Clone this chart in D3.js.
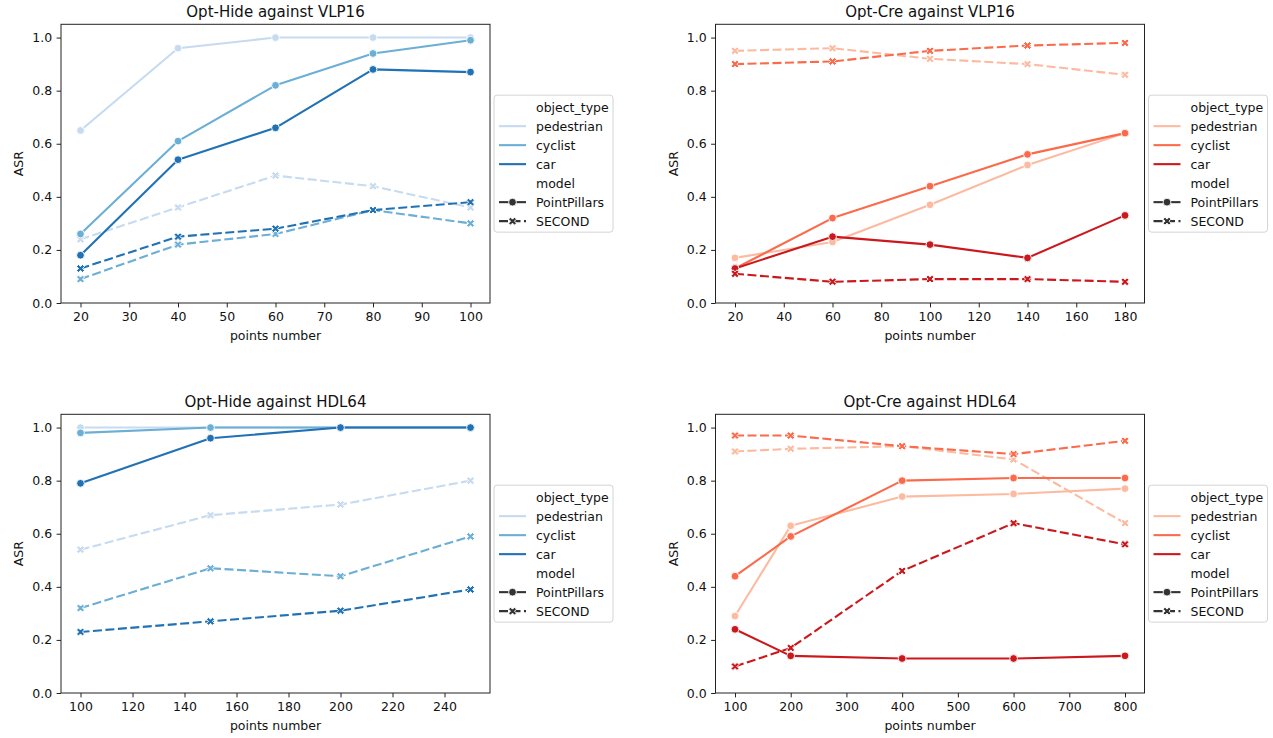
<!DOCTYPE html>
<html>
<head>
<meta charset="utf-8">
<script src="https://cdn.jsdelivr.net/npm/d3@7"></script>
<style>
body { margin: 0; background: #fff; }
svg text { font-family: "DejaVu Sans", sans-serif; fill: #111; }
</style>
</head>
<body>
<div id="chart"></div>
<script>
// legend levels and palettes (seaborn Blues / Reds, 3 colors)
var objectTypes = ["pedestrian", "cyclist", "car"];
var models = ["PointPillars", "SECOND"];
var blues = ["#c6dbef", "#6baed6", "#2171b5"];
var reds = ["#fcbba1", "#fb6a4a", "#cb181d"];
var yTicks = [0, 0.2, 0.4, 0.6, 0.8, 1.0];

// Opt-Hide against VLP16
var hideVlpX = [20, 40, 60, 80, 100];
var hideVlpTicks = [20, 30, 40, 50, 60, 70, 80, 90, 100];
var hideVlpPillars = [[0.65, 0.96, 1.0, 1.0, 1.0], [0.26, 0.61, 0.82, 0.94, 0.99], [0.18, 0.54, 0.66, 0.88, 0.87]];
var hideVlpSecond = [[0.24, 0.36, 0.48, 0.44, 0.36], [0.09, 0.22, 0.26, 0.35, 0.30], [0.13, 0.25, 0.28, 0.35, 0.38]];

// Opt-Cre against VLP16
var creVlpX = [20, 60, 100, 140, 180];
var creVlpTicks = [20, 40, 60, 80, 100, 120, 140, 160, 180];
var creVlpPillars = [[0.17, 0.23, 0.37, 0.52, 0.64], [0.13, 0.32, 0.44, 0.56, 0.64], [0.13, 0.25, 0.22, 0.17, 0.33]];
var creVlpSecond = [[0.95, 0.96, 0.92, 0.90, 0.86], [0.90, 0.91, 0.95, 0.97, 0.98], [0.11, 0.08, 0.09, 0.09, 0.08]];

// Opt-Hide against HDL64
var hideHdlX = [100, 150, 200, 250];
var hideHdlTicks = [100, 120, 140, 160, 180, 200, 220, 240];
var hideHdlPillars = [[1.0, 1.0, 1.0, 1.0], [0.98, 1.0, 1.0, 1.0], [0.79, 0.96, 1.0, 1.0]];
var hideHdlSecond = [[0.54, 0.67, 0.71, 0.80], [0.32, 0.47, 0.44, 0.59], [0.23, 0.27, 0.31, 0.39]];

// Opt-Cre against HDL64
var creHdlX = [100, 200, 400, 600, 800];
var creHdlTicks = [100, 200, 300, 400, 500, 600, 700, 800];
var creHdlPillars = [[0.29, 0.63, 0.74, 0.75, 0.77], [0.44, 0.59, 0.80, 0.81, 0.81], [0.24, 0.14, 0.13, 0.13, 0.14]];
var creHdlSecond = [[0.91, 0.92, 0.93, 0.88, 0.64], [0.97, 0.97, 0.93, 0.90, 0.95], [0.10, 0.17, 0.46, 0.64, 0.56]];

var panels = [
    {title: "Opt-Hide against VLP16", xs: hideVlpX, ticks: hideVlpTicks, pp: hideVlpPillars, sec: hideVlpSecond, colors: blues, left: 61, top: 24.3},
    {title: "Opt-Cre against VLP16", xs: creVlpX, ticks: creVlpTicks, pp: creVlpPillars, sec: creVlpSecond, colors: reds, left: 715.5, top: 24.3},
    {title: "Opt-Hide against HDL64", xs: hideHdlX, ticks: hideHdlTicks, pp: hideHdlPillars, sec: hideHdlSecond, colors: blues, left: 61, top: 414.3},
    {title: "Opt-Cre against HDL64", xs: creHdlX, ticks: creHdlTicks, pp: creHdlPillars, sec: creHdlSecond, colors: reds, left: 715.5, top: 414.3}
];

var W = 1273, H = 738;
var pw = 429, ph = 278.7;
var fs = 12.5;
var lw = 2.1, dash = "9,3.5";

var svg = d3.select("#chart")
    .append("svg")
        .attr("width", W)
        .attr("height", H);

// filled "X" marker like matplotlib
function xPath(s) {
    var v = [[0.25,0],[0.5,0.25],[0.75,0],[1,0.25],[0.75,0.5],[1,0.75],[0.75,1],[0.5,0.75],[0.25,1],[0,0.75],[0.25,0.5],[0,0.25]];
    return "M" + v.map(function(p){ return ((p[0]-0.5)*s).toFixed(2) + "," + ((p[1]-0.5)*s).toFixed(2); }).join("L") + "Z";
}

function drawMarker(g, kind, cx, cy, color) {
    if (kind == 0) {
        g.append("circle")
            .attr("cx", cx).attr("cy", cy).attr("r", 3.9)
            .style("fill", color).style("stroke", "#fff").style("stroke-width", 0.9);
    } else {
        g.append("path")
            .attr("d", xPath(8))
            .attr("transform", "translate(" + cx + "," + cy + ")")
            .style("fill", color).style("stroke", "#fff").style("stroke-width", 1);
    }
}

panels.forEach(function(p) {
    var g = svg.append("g").attr("transform", "translate(" + p.left + "," + p.top + ")");

    var ext = d3.extent(p.xs), pad = (ext[1] - ext[0]) * 0.05;
    var x = d3.scaleLinear().domain([ext[0] - pad, ext[1] + pad]).range([0, pw]);
    var y = d3.scaleLinear().domain([0, 1.05]).range([ph, 0]);

    // axes
    var xa = g.append("g")
        .attr("transform", "translate(0," + ph + ")")
        .call(d3.axisBottom(x).tickValues(p.ticks).tickSize(4.4).tickPadding(4.4).tickFormat(d3.format("d")));
    var ya = g.append("g")
        .call(d3.axisLeft(y).tickValues(yTicks).tickSize(4.4).tickPadding(4.4).tickFormat(d3.format(".1f")));
    [xa, ya].forEach(function(a) {
        a.select(".domain").remove();
        a.selectAll("line").style("stroke", "#222").style("stroke-width", 1);
        a.selectAll("text").style("font-size", fs + "px").style("font-family", "DejaVu Sans").style("fill", "#111");
    });

    // lines: hue order, then style
    var line = d3.line()
        .x(function(d, i) { return x(p.xs[i]); })
        .y(function(d) { return y(d); });

    objectTypes.forEach(function(t, ti) {
        [p.pp, p.sec].forEach(function(series, mi) {
            var vals = series[ti];
            g.append("path")
                .datum(vals)
                .attr("d", line)
                .style("fill", "none")
                .style("stroke", p.colors[ti])
                .style("stroke-width", lw)
                .style("stroke-linejoin", "round")
                .style("stroke-dasharray", mi == 1 ? dash : null);
            vals.forEach(function(v, i) {
                drawMarker(g, mi, x(p.xs[i]), y(v), p.colors[ti]);
            });
        });
    });

    // frame
    g.append("rect")
        .attr("width", pw).attr("height", ph)
        .style("fill", "none").style("stroke", "#222").style("stroke-width", 1);

    // texts
    g.append("text")
        .attr("x", pw / 2).attr("y", -7.5)
        .attr("text-anchor", "middle")
        .style("font-size", "15px")
        .text(p.title);
    g.append("text")
        .attr("x", pw / 2).attr("y", ph + 37)
        .attr("text-anchor", "middle")
        .style("font-size", fs + "px")
        .text("points number");
    g.append("text")
        .attr("transform", "translate(-42," + (ph / 2) + ") rotate(-90)")
        .attr("dy", "0.35em")
        .attr("text-anchor", "middle")
        .style("font-size", fs + "px")
        .text("ASR");

    // legend
    var lg = g.append("g").attr("transform", "translate(" + (pw + 4) + "," + (ph / 2 - 68.5) + ")");
    lg.append("rect")
        .attr("width", 119).attr("height", 137)
        .attr("rx", 3).attr("ry", 3)
        .style("fill", "#fff").style("fill-opacity", 0.8)
        .style("stroke", "#d4d4d4").style("stroke-width", 1);

    var rows = ["object_type"].concat(objectTypes).concat(["model"]).concat(models);
    rows.forEach(function(r, ri) {
        var cy = 12 + ri * 19;
        lg.append("text")
            .attr("x", 42).attr("y", cy)
            .attr("dy", "0.36em")
            .style("font-size", fs + "px")
            .text(r);
        var ti = objectTypes.indexOf(r), mi = models.indexOf(r);
        if (ti >= 0) {
            lg.append("line")
                .attr("x1", 5).attr("x2", 32).attr("y1", cy).attr("y2", cy)
                .style("stroke", p.colors[ti]).style("stroke-width", lw);
        }
        if (mi >= 0) {
            lg.append("line")
                .attr("x1", 5).attr("x2", 32).attr("y1", cy).attr("y2", cy)
                .style("stroke", "#333").style("stroke-width", lw)
                .style("stroke-dasharray", mi == 1 ? dash : null);
            drawMarker(lg, mi, 18.5, cy, "#333");
        }
    });
});
</script>
</body>
</html>
